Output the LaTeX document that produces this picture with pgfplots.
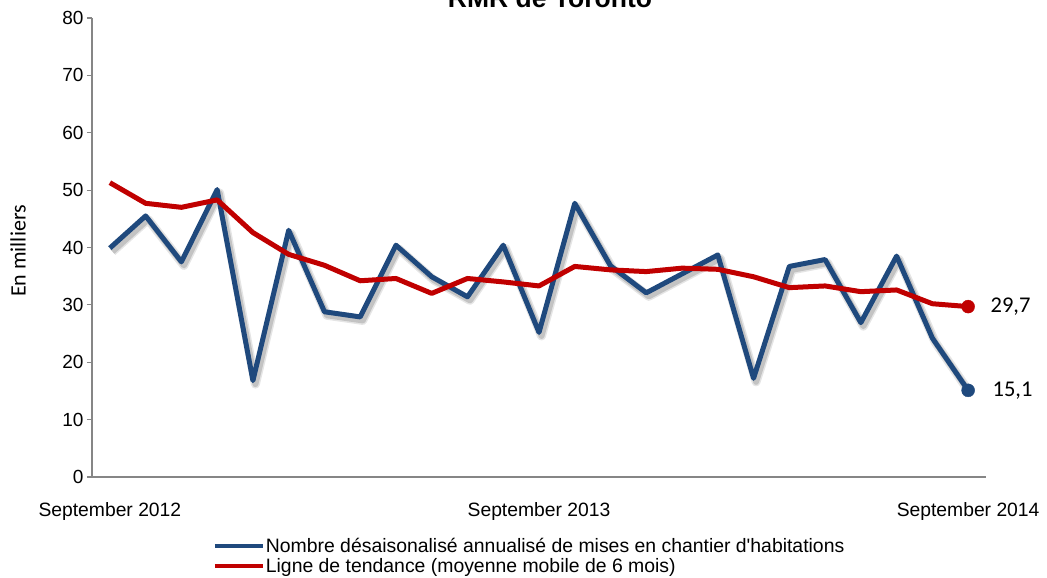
\documentclass[border=0pt]{standalone}
\usepackage{fontspec}
\setmainfont{Liberation Sans}
\newfontfamily\calibri{Carlito}
\usepackage{pgfplots}
\usepackage{pgfplotstable}
\pgfplotsset{compat=1.18}
\definecolor{serblue}{RGB}{31,73,125}
\definecolor{serred}{RGB}{192,0,0}
\definecolor{axgray}{RGB}{134,134,134}

\pgfplotstableread{
x blue red
0 39.9 51.3
1 45.5 47.7
2 37.5 47.0
3 50.1 48.3
4 16.8 42.6
5 43.0 38.8
6 28.8 36.9
7 27.9 34.2
8 40.4 34.6
9 34.9 32.0
10 31.4 34.6
11 40.4 34.0
12 25.2 33.3
13 47.7 36.7
14 36.8 36.1
15 32.1 35.8
16 35.4 36.4
17 38.7 36.2
18 17.2 34.9
19 36.7 33.0
20 37.9 33.3
21 26.9 32.3
22 38.5 32.6
23 24.2 30.2
24 15.1 29.7
}\data

\begin{document}
\begin{tikzpicture}
\begin{axis}[
  at={(92pt,101pt)}, anchor=south west,
  scale only axis, width=894pt, height=459pt,
  xmin=-0.5, xmax=24.5, ymin=0, ymax=80,
  clip=false,
  axis x line*=bottom, axis y line*=left,
  axis line style={draw=axgray, line width=1.5pt},
  ytick={0,10,...,80},
  xtick={0,12,24},
  xticklabels={September 2012, September 2013, September 2014},
  tick align=outside, major tick length=5pt,
  x tick style={draw=none},
  y tick style={draw=axgray, line width=1.2pt},
  /pgf/number format/assume math mode=true,
  yticklabel style={font=\fontsize{19}{22}\selectfont},
  xticklabel style={font=\fontsize{19.3}{22}\selectfont, yshift=-17pt},
  legend style={at={(0.135,-0.130)}, anchor=north west, draw=none, fill=none,
    font=\fontsize{19.4}{20}\selectfont, inner sep=0pt, row sep=3pt,
    nodes={inner sep=1pt}},
  legend cell align=left,
  legend image code/.code={\draw[#1, line width=4pt] (0pt,0pt) -- (48pt,0pt);},
]
\addplot[forget plot, black, opacity=0.10, line width=9pt, line join=round, xshift=2.5pt, yshift=-3.5pt] table[x=x,y=blue]{\data};
\addplot[forget plot, black, opacity=0.15, line width=6pt, line join=round, xshift=2.5pt, yshift=-3.5pt] table[x=x,y=blue]{\data};
\addplot[serblue, line width=5pt, line join=round, no marks] table[x=x,y=blue]{\data};
\addlegendentry{Nombre désaisonalisé annualisé de mises en chantier d\textquotesingle habitations}
\addplot[serred, line width=5pt, line join=round, no marks] table[x=x,y=red]{\data};
\addlegendentry{Ligne de tendance (moyenne mobile de 6 mois)}
\addplot[forget plot, serblue, only marks, mark=*, mark size=6.5pt] coordinates {(24,15.1)};
\addplot[forget plot, serred, only marks, mark=*, mark size=6.5pt] coordinates {(24,29.7)};
\node[anchor=west, font=\calibri\fontsize{22.5}{24}\selectfont] at (axis cs:24,29.7) [xshift=19pt] {29,7};
\node[anchor=west, font=\calibri\fontsize{22.5}{24}\selectfont] at (axis cs:24,15.1) [xshift=21pt] {15,1};
\end{axis}
\node[rotate=90, font=\calibri\fontsize{22}{24}\selectfont] at (18pt,327pt) {En milliers};
\node[anchor=base, font=\bfseries\fontsize{26.5}{30}\selectfont] at (550pt,570pt) {RMR de Toronto};
\pgfresetboundingbox
\useasboundingbox (0pt,0pt) rectangle (1047pt,578pt);
\end{tikzpicture}
\end{document}
